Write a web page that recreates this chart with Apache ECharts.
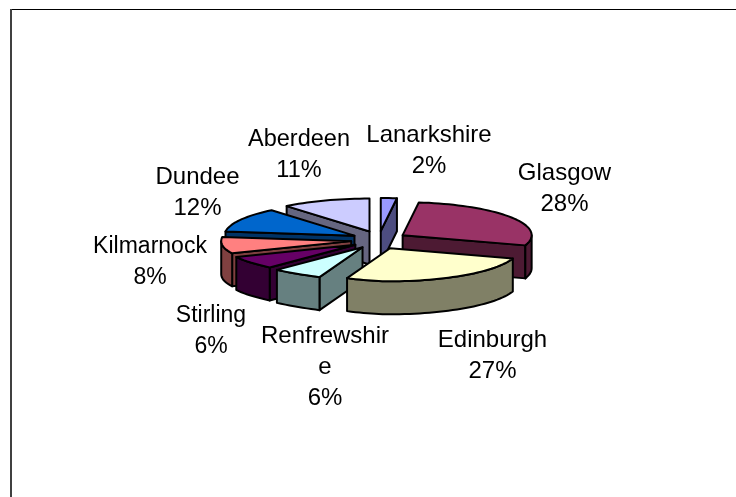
<!DOCTYPE html>
<html>
<head>
<meta charset="utf-8">
<style>html,body{margin:0;padding:0;background:#fff}#chart{width:736px;height:497px}</style>
<script src="https://cdn.jsdelivr.net/npm/echarts@6/dist/echarts.min.js"></script>
</head>
<body>
<div id="chart"></div>
<script>
// Regions of Scotland and their shares, in drawing order clockwise from 12 o'clock.
const regions = ['Lanarkshire', 'Glasgow', 'Edinburgh', 'Renfrewshire', 'Stirling', 'Kilmarnock', 'Dundee', 'Aberdeen'];
const shares = [2, 28, 27, 6, 6, 8, 12, 11];
const labelLines = [['Lanarkshire'], ['Glasgow'], ['Edinburgh'], ['Renfrewshir', 'e'], ['Stirling'], ['Kilmarnock'], ['Dundee'], ['Aberdeen']];

const topColors = ['#9999FF', '#993366', '#FFFFCC', '#CCFFFF', '#660066', '#FF8080', '#0066CC', '#CCCCFF'];
const wallColors = ['#4D4D80', '#4D1A33', '#808066', '#668080', '#330033', '#804040', '#003366', '#666680'];

// Label centres (x, y of the block's middle) around the exploded pie.
const labelCentres = [[429, 151], [564.5, 189], [492.5, 356], [325, 367], [211, 331], [150, 262], [197.5, 193], [299, 155]];
const labelSizes = [24, 24, 24, 24, 23, 23, 24, 23.5];

const PIE = { cx: 379, cy: 240, rxRight: 129, rxLeft: 130, ry: 33, depth: 33, explodeX: 28, explodeY: 9 };
const total = shares.reduce((a, b) => a + b, 0);

// Angular extents in radians, measured clockwise from the top.
let running = 0;
const slices = shares.map((v, i) => {
  const start = running / total * Math.PI * 2;
  running += v;
  const end = running / total * Math.PI * 2;
  const mid = (start + end) / 2;
  return {
    i, start, end,
    tx: PIE.cx + PIE.explodeX * Math.sin(mid),
    ty: PIE.cy - PIE.explodeY * Math.cos(mid)
  };
});

// Horizontal radius: the near-left quadrant of the projected disc is slightly pinched.
function radiusX(a) {
  if (a <= Math.PI) return PIE.rxRight;
  if (a >= Math.PI * 1.5) return PIE.rxLeft;
  return PIE.rxLeft * (1 - 0.3 * Math.pow(Math.cos(a - Math.PI), 3));
}

const rim = (s, a) => [s.tx + radiusX(a) * Math.sin(a), s.ty - PIE.ry * Math.cos(a)];
const down = p => [p[0], p[1] + PIE.depth];

function arcPoints(s, from, to) {
  const n = Math.max(2, Math.ceil((to - from) / 0.04));
  const pts = [];
  for (let k = 0; k <= n; k++) pts.push(rim(s, from + (to - from) * k / n));
  return pts;
}

function face(points, fill) {
  return {
    type: 'polygon',
    shape: { points },
    style: { fill, stroke: '#000', lineWidth: 2, lineJoin: 'round' }
  };
}

function renderSlice(dataIndex) {
  const s = slices[dataIndex];
  const col = topColors[s.i], wall = wallColors[s.i];
  const tip = [s.tx, s.ty];
  const children = [];

  // A cut face shows only when its outward normal points towards the viewer.
  if (Math.sin(s.start) < -1e-6) {
    const c = rim(s, s.start);
    children.push(face([tip, c, down(c), down(tip)], wall));
  }
  if (Math.sin(s.end) > 1e-6) {
    const c = rim(s, s.end);
    children.push(face([tip, c, down(c), down(tip)], wall));
  }

  // Outer wall: the stretch of the rim on the near half of the ellipse.
  const from = Math.max(s.start, Math.PI / 2), to = Math.min(s.end, Math.PI * 1.5);
  if (to > from) {
    const upper = arcPoints(s, from, to);
    children.push(face(upper.concat(upper.map(down).reverse()), wall));
  }

  children.push(face([tip].concat(arcPoints(s, s.start, s.end)), col));
  return { type: 'group', children };
}

function renderLabel(params) {
  const i = params.dataIndex;
  const pct = Math.round(shares[i] / total * 100);
  return {
    type: 'text',
    x: labelCentres[i][0],
    y: labelCentres[i][1],
    style: {
      text: labelLines[i].concat(pct + '%').join('\n'),
      font: labelSizes[i] + 'px "Liberation Sans", Arial, sans-serif',
      lineHeight: 31,
      fill: '#000',
      align: 'center',
      verticalAlign: 'middle'
    }
  };
}

// Far slices first so nearer ones paint over them.
const drawOrder = slices.slice().sort((a, b) => a.ty - b.ty).map(s => s.i);

const chart = echarts.init(document.getElementById('chart'), null, { renderer: 'canvas' });
chart.setOption({
  animation: false,
  backgroundColor: '#fff',
  graphic: [
    { type: 'line', shape: { x1: 10, y1: 9.5, x2: 736, y2: 9.5 }, style: { stroke: '#000', lineWidth: 1 } },
    { type: 'line', shape: { x1: 11, y1: 9, x2: 11, y2: 497 }, style: { stroke: '#404040', lineWidth: 2 } }
  ],
  series: [
    {
      type: 'custom',
      coordinateSystem: 'none',
      data: drawOrder.map(i => ({ name: regions[i], value: shares[i] })),
      renderItem: params => renderSlice(drawOrder[params.dataIndex]),
      silent: true
    },
    {
      type: 'custom',
      coordinateSystem: 'none',
      data: shares.map((v, i) => ({ name: regions[i], value: v })),
      renderItem: renderLabel,
      silent: true
    }
  ]
});
</script>
</body>
</html>
